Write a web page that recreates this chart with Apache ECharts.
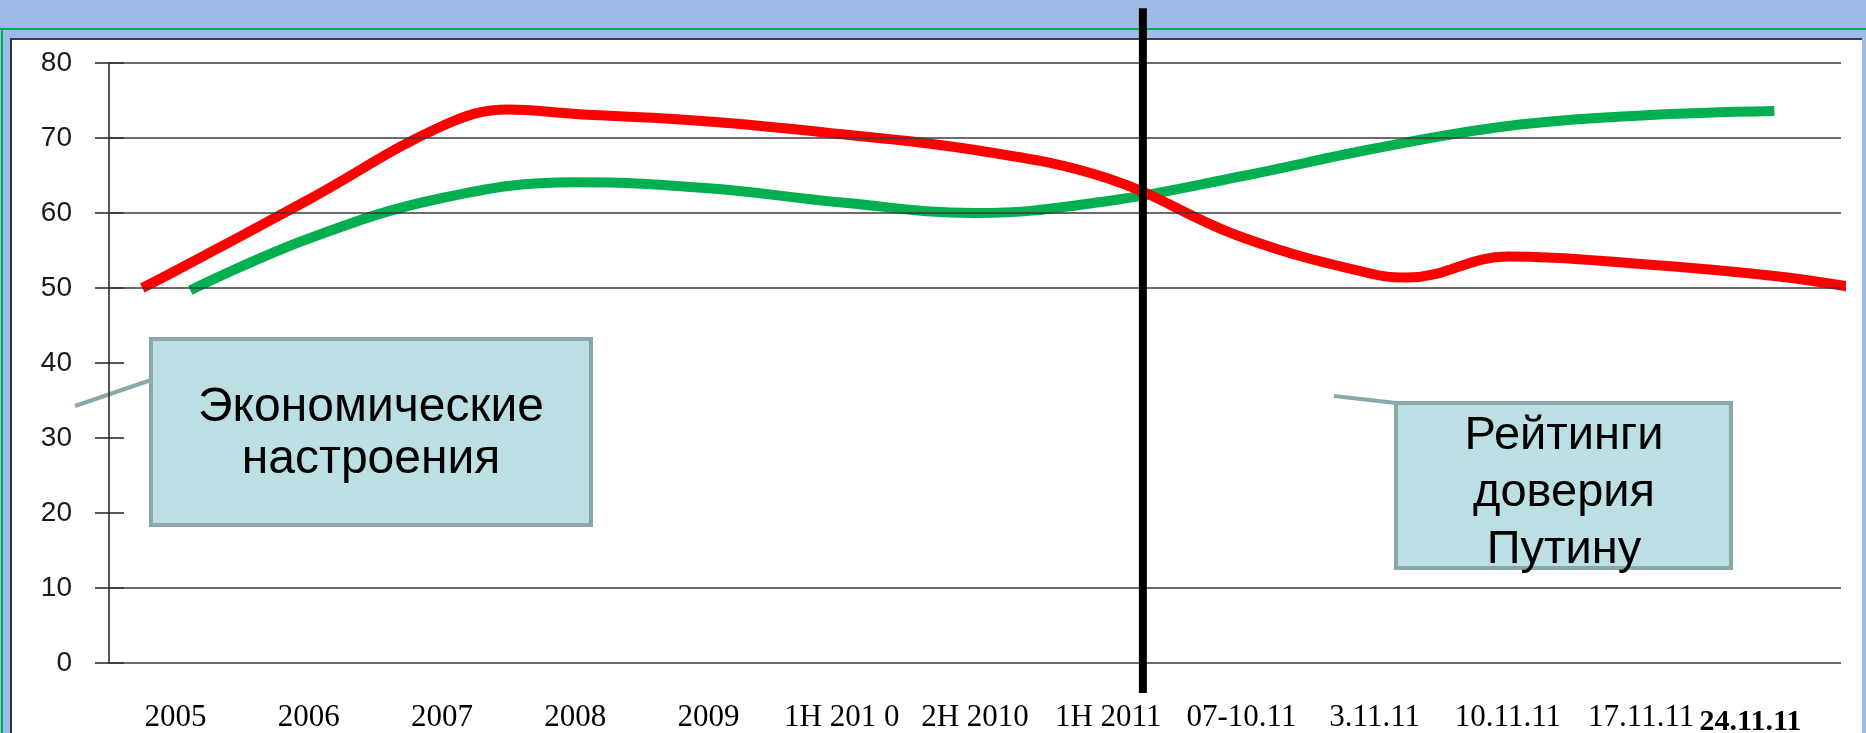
<!DOCTYPE html>
<html>
<head>
<meta charset="utf-8">
<title>Экономические настроения и рейтинги доверия Путину</title>
<script src="https://cdn.jsdelivr.net/npm/echarts@6/dist/echarts.min.js"></script>
<style>
  html, body { margin: 0; padding: 0; }
  body { width: 1866px; height: 733px; background: #9dbce9; position: relative; overflow: hidden; }
  .green-h { position: absolute; left: 0; top: 28px; width: 1866px; height: 2px; background: #00b050; }
  .green-v { position: absolute; left: 1px; top: 28px; width: 2px; height: 705px; background: #00b050; }
  .panel { position: absolute; left: 10px; top: 38px; width: 1850px; height: 700px; background: #fff;
           border-top: 2px solid #3b3f4a; border-left: 2px solid #333; }
  #chart { position: absolute; left: 0; top: 0; width: 1866px; height: 733px; }
</style>
</head>
<body>
<div class="green-h"></div>
<div class="green-v"></div>
<div class="panel"></div>
<div id="chart"></div>
<script>
var categories = ['2005', '2006', '2007', '2008', '2009', '1H 201 0', '2H 2010', '1H 2011',
  '07-10.11', '3.11.11', '10.11.11', '17.11.11', '24.11.11'];
var gridValues = [0, 10, 50, 60, 70, 80];

// x = position on the category axis (0 = 2005), fractional where the curve bends between labels
var putinX = [-0.25, 0, 1, 2, 2.5, 3, 4, 5, 6, 7, 8, 9, 9.25, 10, 11, 12, 12.62];
var putinY = [50, 52.3, 61.8, 71.6, 73.8, 73.2, 72.2, 70.5, 68.4, 64.6, 56.8, 51.8, 51.4, 54.2, 53.2, 51.6, 50];

var econX = [0.11, 1, 2, 3, 4, 5, 6, 7, 8, 9, 10, 11, 12];
var econY = [49.7, 56.6, 62.0, 64.1, 63.3, 61.4, 60.0, 61.6, 64.9, 68.6, 71.6, 73.0, 73.6];

// black divider between 1H 2011 and the autumn 2011 polls
var dividerX = 7.26;
var dividerY = [-4, 87.3];

function pairs(xs, ys) {
  return xs.map(function (x, i) { return [x, ys[i]]; });
}

var chart = echarts.init(document.getElementById('chart'));

var option = {
  animation: false,
  backgroundColor: 'transparent',
  grid: { left: 109, right: 25, top: 63, bottom: 70, containLabel: false, outerBoundsMode: 'none' },
  xAxis: [{
    type: 'category',
    data: categories,
    boundaryGap: true,
    axisLine: { show: false },
    axisTick: { show: false },
    splitLine: { show: false },
    axisLabel: {
      interval: 0,
      margin: 39,
      color: '#000',
      fontFamily: 'Liberation Serif',
      fontSize: 31,
      formatter: function (v, i) {
        return i === categories.length - 1 ? '{last|' + v + '}' : v;
      },
      rich: {
        last: { fontFamily: 'Liberation Serif', fontSize: 30, fontWeight: 'bold', color: '#000', padding: [5, 48, 0, 0] }
      }
    }
  }, {
    type: 'value',
    min: -0.5,
    max: categories.length - 0.5,
    show: false
  }],
  yAxis: [{
    type: 'value',
    min: 0,
    max: 80,
    interval: 10,
    axisLine: { show: true, onZero: false, lineStyle: { color: '#222', width: 1.5 } },
    axisTick: { show: true, length: 14, lineStyle: { color: '#222', width: 1.5 } },
    axisLabel: { margin: 37, color: '#1a1a1a', fontFamily: 'Liberation Sans', fontSize: 28 },
    splitLine: { show: false }
  }, {
    // inner half of the crossing ticks
    type: 'value',
    min: 0,
    max: 80,
    interval: 10,
    position: 'left',
    axisLine: { show: false, onZero: false },
    axisTick: { show: true, inside: true, length: 15, lineStyle: { color: '#222', width: 1.5 } },
    axisLabel: { show: false },
    splitLine: { show: false }
  }],
  graphic: [
    { type: 'line', shape: { x1: 75, y1: 406, x2: 151, y2: 380 }, style: { stroke: '#8aa7a9', lineWidth: 4 } },
    { type: 'rect', shape: { x: 151, y: 339, width: 440, height: 186 }, style: { fill: '#bcdfe3', stroke: '#8aa7a9', lineWidth: 4 } },
    { type: 'text', x: 371, y: 434, style: {
      text: 'Экономические\nнастроения', fontFamily: 'Liberation Sans', fontSize: 48, lineHeight: 52,
      fill: '#000', align: 'center', verticalAlign: 'middle' } },
    { type: 'line', shape: { x1: 1334, y1: 396, x2: 1396, y2: 403 }, style: { stroke: '#8aa7a9', lineWidth: 4 } },
    { type: 'rect', shape: { x: 1396, y: 403, width: 335, height: 165 }, style: { fill: '#bcdfe3', stroke: '#8aa7a9', lineWidth: 4 } },
    { type: 'text', x: 1564, y: 493, style: {
      text: 'Рейтинги\nдоверия\nПутину', fontFamily: 'Liberation Sans', fontSize: 47, lineHeight: 57,
      fill: '#000', align: 'center', verticalAlign: 'middle' } }
  ],
  series: [{
    type: 'line',
    xAxisIndex: 1,
    data: [],
    silent: true,
    z: 1,
    markLine: {
      silent: true,
      symbol: ['none', 'none'],
      label: { show: false },
      lineStyle: { color: '#3a3a3a', width: 1.5, type: 'solid' },
      data: gridValues.map(function (v) { return { yAxis: v }; })
    }
  }, {
    name: 'Экономические настроения',
    type: 'line',
    xAxisIndex: 1,
    data: pairs(econX, econY),
    smooth: 0.4,
    symbol: 'none',
    clip: false,
    lineStyle: { color: '#00b050', width: 10, cap: 'butt' },
    z: 3
  }, {
    name: 'Рейтинги доверия Путину',
    type: 'line',
    xAxisIndex: 1,
    data: pairs(putinX, putinY),
    smooth: 0.4,
    symbol: 'none',
    clip: false,
    lineStyle: { color: '#ff0000', width: 10, cap: 'butt' },
    z: 4
  }, {
    type: 'line',
    xAxisIndex: 1,
    data: dividerY.map(function (y) { return [dividerX, y]; }),
    symbol: 'none',
    clip: false,
    silent: true,
    lineStyle: { color: '#000', width: 8 },
    z: 5
  }]
};

chart.setOption(option);
</script>
</body>
</html>
